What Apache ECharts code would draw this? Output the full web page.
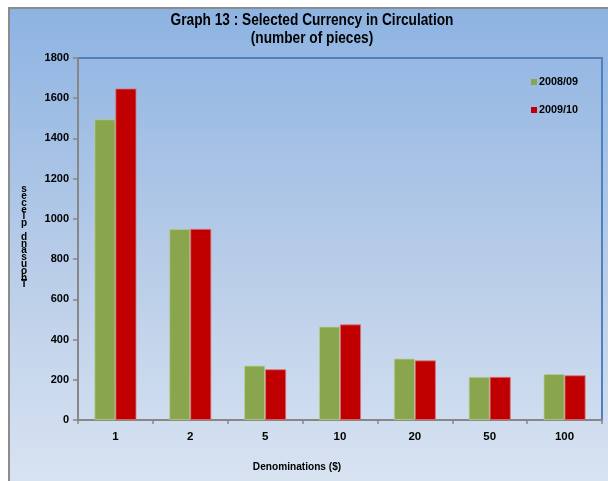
<!DOCTYPE html>
<html>
<head>
<meta charset="utf-8">
<script src="https://cdn.jsdelivr.net/npm/echarts@6/dist/echarts.min.js"></script>
<style>
html,body{margin:0;padding:0;background:#ffffff;}
#chart{width:608px;height:481px;}
</style>
</head>
<body>
<div id="chart"></div>
<script>
const titleLines = ['Graph 13 : Selected Currency in Circulation', '(number of pieces)'];
const categories = ['1', '2', '5', '10', '20', '50', '100'];
const seriesNames = ['2008/09', '2009/10'];
const values0809 = [1495, 950, 270, 464, 305, 214, 228];
const values0910 = [1648, 950, 252, 475, 296, 214, 222];
const yTicks = { min: 0, max: 1800, interval: 200 };
const xAxisName = 'Denominations ($)';
const yAxisName = 'Thousand pieces';

const chart = echarts.init(document.getElementById('chart'), null, { renderer: 'canvas' });
const FONT = 'Liberation Sans, Arial, sans-serif';

const stackedName = yAxisName.split('').reverse().join('\n');

chart.setOption({
  animation: false,
  backgroundColor: '#ffffff',
  graphic: [
    {
      type: 'rect', z: -10, silent: true,
      shape: { x: 9, y: 8, width: 640, height: 520 },
      style: {
        fill: new echarts.graphic.LinearGradient(0, 0, 0, 1, [
          { offset: 0, color: '#8db3e2' },
          { offset: 0.5, color: '#b9cde8' },
          { offset: 1, color: '#dfe8f4' }
        ]),
        stroke: '#8c8c8c', lineWidth: 2
      }
    },
    {
      type: 'text', x: 312, y: 12, scaleX: 0.855, originX: 0, originY: 0,
      style: {
        text: titleLines.join('\n'), x: 0, y: 0,
        font: 'bold 16px ' + FONT, fill: '#000000', align: 'center', verticalAlign: 'top', lineHeight: 18
      }
    },
    {
      type: 'text', x: 297, y: 467, scaleX: 0.92,
      style: {
        text: xAxisName, x: 0, y: 0,
        font: 'bold 11px ' + FONT, fill: '#000000', align: 'center', verticalAlign: 'middle'
      }
    },
    {
      type: 'text',
      style: {
        text: stackedName, x: 24, y: 186,
        font: 'bold 10px ' + FONT, fill: '#000000', align: 'center', verticalAlign: 'top', lineHeight: 6.8
      }
    }
  ],
  legend: {
    data: seriesNames,
    orient: 'vertical',
    left: 526, top: 71,
    itemWidth: 6, itemHeight: 6, itemGap: 16,
    icon: 'rect',
    itemStyle: { borderWidth: 0 },
    textStyle: { fontFamily: FONT, fontWeight: 'bold', fontSize: 10.8, color: '#000000', lineHeight: 12, padding: [0, 0, 0, -3] }
  },
  grid: {
    left: 78, top: 58, right: 6, bottom: 61,
    show: true, borderColor: '#4f81bd', borderWidth: 2, backgroundColor: 'transparent'
  },
  xAxis: {
    type: 'category',
    data: categories,
    axisLine: { lineStyle: { color: '#878787', width: 2 } },
    axisTick: { show: true, length: 4, lineStyle: { color: '#878787', width: 1.5 } },
    axisLabel: { fontFamily: FONT, fontWeight: 'bold', fontSize: 11.5, color: '#000000', margin: 11 }
  },
  yAxis: {
    type: 'value',
    min: yTicks.min, max: yTicks.max, interval: yTicks.interval,
    splitLine: { show: false },
    axisLine: { show: true, lineStyle: { color: '#878787', width: 2 } },
    axisTick: { show: true, length: 5, lineStyle: { color: '#878787', width: 1.5 } },
    axisLabel: { fontFamily: FONT, fontWeight: 'bold', fontSize: 11, color: '#000000', margin: 9, formatter: function (v) { return String(v); } }
  },
  series: [
    {
      name: seriesNames[0], type: 'bar', data: values0809,
      barGap: '0%', barCategoryGap: '44%',
      itemStyle: { color: '#89a54e', borderColor: '#b9cf92', borderWidth: 0.8 }
    },
    {
      name: seriesNames[1], type: 'bar', data: values0910,
      barGap: '0%', barCategoryGap: '44%',
      itemStyle: { color: '#c00000', borderColor: '#d9757a', borderWidth: 0.8 }
    }
  ]
});
</script>
</body>
</html>
